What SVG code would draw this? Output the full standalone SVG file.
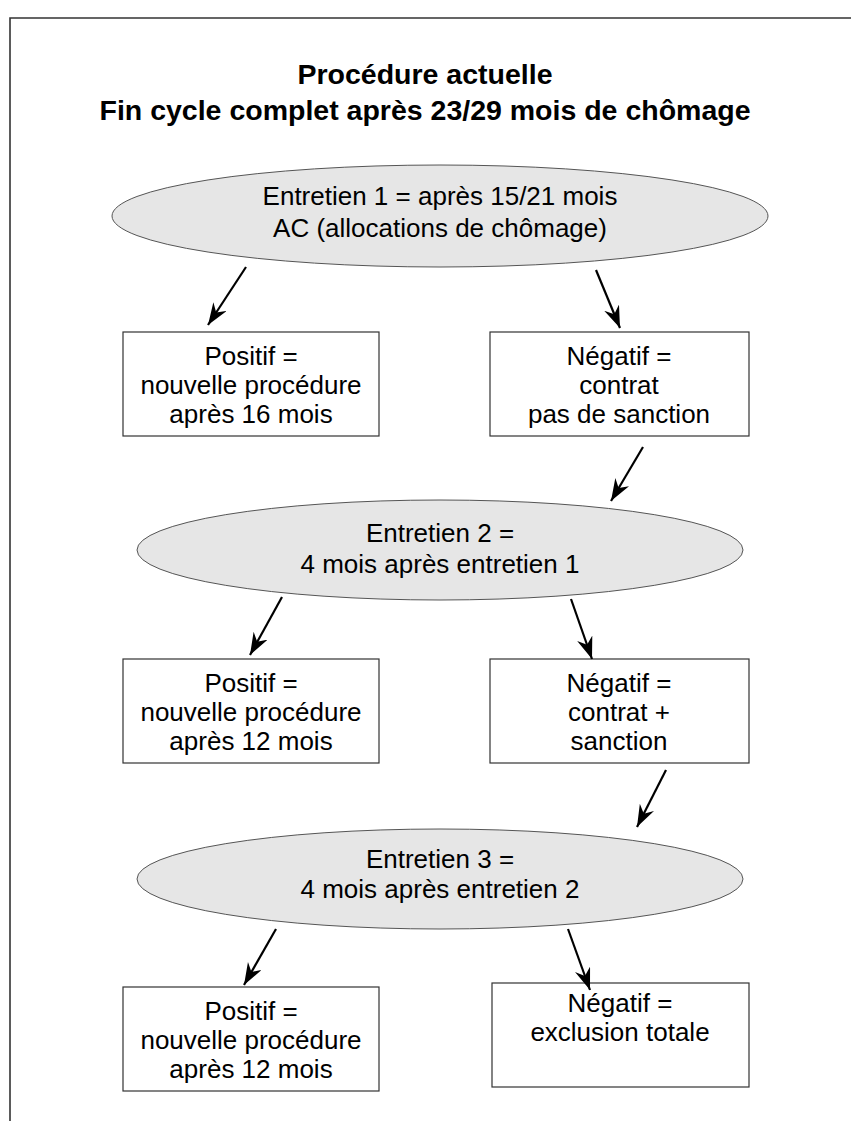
<svg xmlns="http://www.w3.org/2000/svg" width="851" height="1121" viewBox="0 0 851 1121">
<style>
.frame{stroke:#333;stroke-width:1.6;fill:none}
.ell{fill:#e6e6e6;stroke:#555;stroke-width:1}
.box{fill:#fff;stroke:#333;stroke-width:1.2}
.t{font-family:"Liberation Sans",Arial,sans-serif;font-size:26px;fill:#000;text-anchor:middle}
.title{font-family:"Liberation Sans",Arial,sans-serif;font-size:28.5px;font-weight:bold;fill:#000;text-anchor:middle}
.arr{stroke:#000;stroke-width:2.2;fill:none;marker-end:url(#ah)}
</style>
<defs>
<marker id="ah" markerUnits="userSpaceOnUse" markerWidth="24" markerHeight="18" refX="22" refY="8" orient="auto">
<path d="M0,0 L22,8 L0,16 L7,8 Z" fill="#000"/>
</marker>
</defs>
<rect width="851" height="1121" fill="#fff"/>
<path class="frame" d="M10,1121 L10,18 L851,18"/>
<g id="title">
<text class="title" x="425" y="84">Procédure actuelle</text>
<text class="title" x="425" y="120">Fin cycle complet après 23/29 mois de chômage</text>
</g>
<g id="e1">
<ellipse class="ell" cx="440" cy="216" rx="328" ry="51"/>
<text class="t" x="440" y="205">Entretien 1 = après 15/21 mois</text>
<text class="t" x="440" y="237">AC (allocations de chômage)</text>
</g>
<g id="p1">
<rect class="box" x="123" y="332" width="256" height="104"/>
<text class="t" x="251" y="365">Positif =</text>
<text class="t" x="251" y="394.2">nouvelle procédure</text>
<text class="t" x="251" y="423.4">après 16 mois</text>
</g>
<g id="n1">
<rect class="box" x="490" y="332" width="259" height="104"/>
<text class="t" x="619" y="365">Négatif =</text>
<text class="t" x="619" y="394.2">contrat</text>
<text class="t" x="619" y="423.4">pas de sanction</text>
</g>
<g id="e2">
<ellipse class="ell" cx="440" cy="550" rx="303" ry="50"/>
<text class="t" x="440" y="542">Entretien 2 =</text>
<text class="t" x="440" y="573">4 mois après entretien 1</text>
</g>
<g id="p2">
<rect class="box" x="123" y="659" width="256" height="104"/>
<text class="t" x="251" y="692">Positif =</text>
<text class="t" x="251" y="721.2">nouvelle procédure</text>
<text class="t" x="251" y="750.4">après 12 mois</text>
</g>
<g id="n2">
<rect class="box" x="490" y="659" width="259" height="104"/>
<text class="t" x="619" y="692">Négatif =</text>
<text class="t" x="619" y="721.2">contrat +</text>
<text class="t" x="619" y="750.4">sanction</text>
</g>
<g id="e3">
<ellipse class="ell" cx="440" cy="879" rx="303" ry="50"/>
<text class="t" x="440" y="868">Entretien 3 =</text>
<text class="t" x="440" y="898">4 mois après entretien 2</text>
</g>
<g id="p3">
<rect class="box" x="123" y="987" width="256" height="104"/>
<text class="t" x="251" y="1020">Positif =</text>
<text class="t" x="251" y="1049.2">nouvelle procédure</text>
<text class="t" x="251" y="1078.4">après 12 mois</text>
</g>
<g id="n3">
<rect class="box" x="492" y="983" width="257" height="104"/>
<text class="t" x="620" y="1012">Négatif =</text>
<text class="t" x="620" y="1041">exclusion totale</text>
</g>
<g id="connectors">
<line class="arr" x1="246" y1="267" x2="208" y2="325"/>
<line class="arr" x1="596" y1="270" x2="620" y2="328"/>
<line class="arr" x1="643" y1="447" x2="611" y2="501"/>
<line class="arr" x1="282" y1="597" x2="250" y2="655"/>
<line class="arr" x1="571" y1="599" x2="592" y2="659"/>
<line class="arr" x1="666" y1="770" x2="637" y2="827"/>
<line class="arr" x1="276" y1="929" x2="244" y2="985"/>
<line class="arr" x1="568" y1="929" x2="590" y2="990"/>
</g>
</svg>
